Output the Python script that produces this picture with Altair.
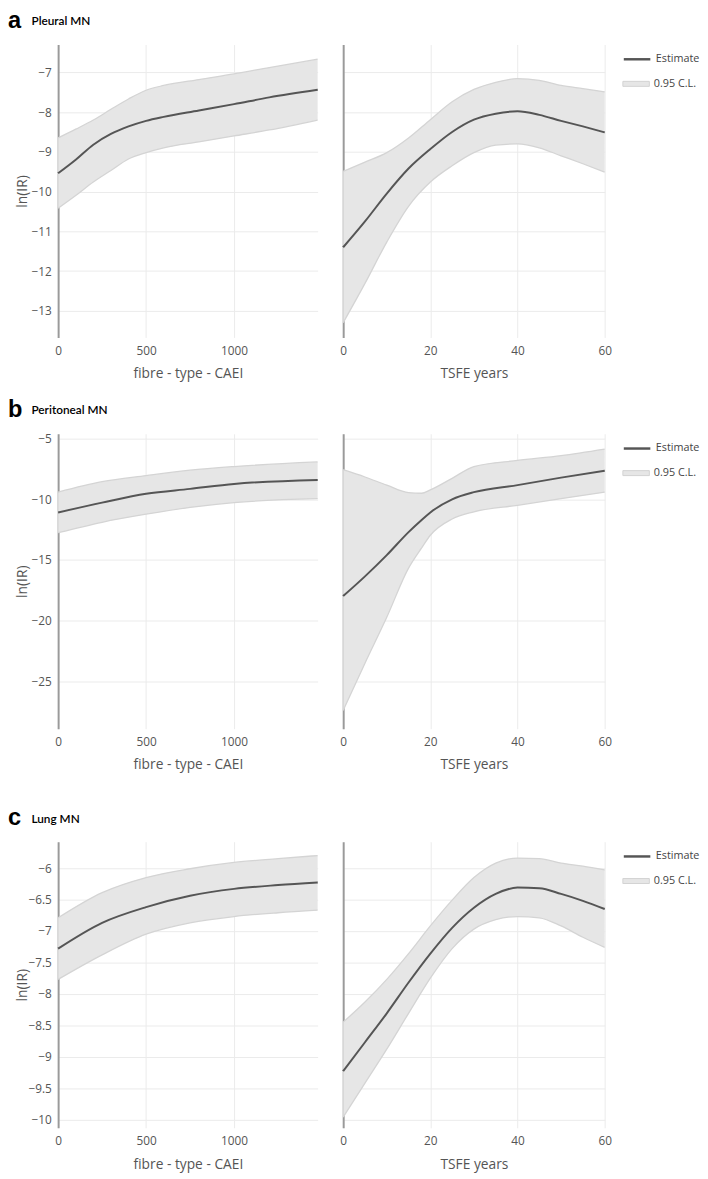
import altair as alt
import pandas as pd

# ---------------- data ----------------
# Row a: Pleural MN
a_caei_x = [0, 100, 200, 300, 400, 500, 600, 800, 1000, 1200, 1475]
a_caei_est = [-9.54, -9.2, -8.82, -8.55, -8.36, -8.22, -8.12, -7.96, -7.8, -7.63, -7.44]
a_caei_up = [-8.65, -8.43, -8.2, -7.93, -7.67, -7.45, -7.33, -7.18, -7.04, -6.88, -6.67]
a_caei_lo = [-10.42, -10.1, -9.76, -9.47, -9.18, -9.02, -8.9, -8.75, -8.6, -8.45, -8.2]

a_tsfe_x = [0, 5, 10, 15, 20, 25, 30, 35, 40, 45, 50, 55, 60]
a_tsfe_est = [-11.4, -10.75, -10.05, -9.42, -8.93, -8.5, -8.19, -8.04, -7.98, -8.07, -8.22, -8.36, -8.51]
a_tsfe_up = [-9.49, -9.26, -9.02, -8.65, -8.19, -7.74, -7.43, -7.25, -7.16, -7.2, -7.33, -7.41, -7.49]
a_tsfe_lo = [-13.3, -12.31, -11.27, -10.37, -9.76, -9.35, -9.02, -8.83, -8.8, -8.9, -9.1, -9.3, -9.51]

# Row b: Peritoneal MN
b_caei_x = [0, 250, 500, 750, 1000, 1475]
b_caei_est = [-11.08, -10.27, -9.54, -9.14, -8.73, -8.4]
b_caei_up = [-9.41, -8.55, -8.05, -7.6, -7.3, -6.92]
b_caei_lo = [-12.75, -11.89, -11.23, -10.67, -10.27, -9.95]

b_tsfe_x = [0, 5, 10, 15, 18, 20, 25, 30, 40, 50, 60]
b_tsfe_est = [-17.97, -16.35, -14.6, -12.7, -11.7, -11.08, -10.0, -9.41, -8.83, -8.21, -7.65]
b_tsfe_up = [-7.56, -8.16, -8.83, -9.45, -9.5, -9.22, -8.27, -7.3, -6.8, -6.4, -5.86]
b_tsfe_lo = [-27.4, -23.5, -19.72, -15.67, -14.0, -12.96, -11.62, -11.03, -10.49, -9.95, -9.41]

# Row c: Lung MN
c_caei_x = [0, 250, 500, 750, 1000, 1250, 1475]
c_caei_est = [-7.28, -6.87, -6.62, -6.44, -6.33, -6.27, -6.23]
c_caei_up = [-6.79, -6.39, -6.15, -6.01, -5.91, -5.85, -5.8]
c_caei_lo = [-7.77, -7.38, -7.05, -6.87, -6.77, -6.71, -6.67]

c_tsfe_x = [0, 5, 10, 15, 20, 25, 30, 35, 40, 45, 50, 55, 60]
c_tsfe_est = [-9.23, -8.77, -8.31, -7.82, -7.36, -6.95, -6.63, -6.41, -6.31, -6.32, -6.41, -6.52, -6.65]
c_tsfe_up = [-8.45, -8.13, -7.77, -7.36, -6.92, -6.51, -6.15, -5.92, -5.84, -5.85, -5.92, -5.97, -6.03]
c_tsfe_lo = [-9.96, -9.42, -8.88, -8.31, -7.75, -7.28, -6.97, -6.82, -6.77, -6.79, -6.92, -7.1, -7.26]

# axes
a_yticks = [-13, -12, -11, -10, -9, -8, -7]
b_yticks = [-25, -20, -15, -10, -5]
c_yticks = [-10, -9.5, -9, -8.5, -8, -7.5, -7, -6.5, -6]
a_ydomain = [-13.67, -6.3]
b_ydomain = [-28.9, -4.6]
c_ydomain = [-10.13, -5.58]
caei_ticks = [0, 500, 1000]
tsfe_ticks = [0, 20, 40, 60]
caei_domain = [0, 1475]
tsfe_domain = [0, 60]

series_names = ["Estimate", "0.95 C.L."]

GRAY = "#555"
FONT = "Open Sans"
GAP = "\u200b" + "\u00a0" * 8


def panel(x, est, lo, up, xdomain, xticks, xtitle, ydomain, yticks, height, left, width,
          letter=None, name=None):
    df = pd.DataFrame({"x": x, "est": est, "lo": lo, "up": up,
                       "es": series_names[0], "ci": series_names[1]})
    base = alt.Chart(df)
    xsc = alt.Scale(domain=xdomain, nice=False, zero=False)
    xaxis = alt.Axis(values=xticks, title=xtitle, format="d", domain=False, ticks=False,
                     grid=True, gridColor="#ebebeb", labelPadding=8, titlePadding=11,
                     labelFlush=False, labelOverlap=False)
    ysc = alt.Scale(domain=ydomain, nice=False, zero=False)
    if left:
        yaxis = alt.Axis(values=yticks, format="~g", domain=True, domainColor="#9a9a9a",
                         domainWidth=2, ticks=False, grid=True, gridColor="#ebebeb",
                         labels=True, labelOverlap=False, title="ln(IR)",
                         labelPadding=7, titlePadding=6, minExtent=23, maxExtent=23)
    else:
        yaxis = alt.Axis(values=yticks, format="~g", domain=True, domainColor="#9a9a9a",
                         domainWidth=2, ticks=False, grid=True, gridColor="#ebebeb",
                         labels=False, title=None, minExtent=0, maxExtent=0)

    def X():
        return alt.X("x:Q", scale=xsc, axis=xaxis)

    def Y(field):
        return alt.Y(field, scale=ysc, axis=yaxis)

    color_enc = alt.Color("es:N",
                          scale=alt.Scale(domain=[series_names[0]], range=["#555555"]),
                          legend=alt.Legend(title=None, symbolType="M-1.15,0H0.85",
                                            symbolSize=729, symbolStrokeWidth=2.5,
                                            labelOffset=2))
    # legend-order helper (drawn first, hidden under the band)
    line_key = base.mark_line(interpolate="monotone", strokeWidth=2).encode(
        x=X(), y=Y("est:Q"), color=color_enc)
    area = base.mark_area(interpolate="monotone").encode(
        x=X(),
        y=Y("lo:Q"),
        y2="up:Q",
        fill=alt.Fill("ci:N",
                      scale=alt.Scale(domain=[series_names[1]], range=["#e6e6e6"]),
                      legend=alt.Legend(title=None,
                                        symbolType="M-1.17,-0.22H1.17V0.22H-1.17Z",
                                        symbolSize=529, symbolStrokeColor="#d2d2d2",
                                        symbolStrokeWidth=1, labelOffset=6)),
    )
    edge_up = base.mark_line(interpolate="monotone", color="#d4d4d4", strokeWidth=1.3).encode(
        x=X(), y=Y("up:Q"))
    edge_lo = base.mark_line(interpolate="monotone", color="#d4d4d4", strokeWidth=1.3).encode(
        x=X(), y=Y("lo:Q"))
    line = base.mark_line(interpolate="monotone", strokeWidth=2).encode(
        x=X(), y=Y("est:Q"), color=color_enc)
    props = dict(width=width, height=height)
    if letter is not None:
        props["title"] = alt.TitleParams(
            text=letter, subtitle=GAP + name, anchor="start", frame="bounds", dx=-8,
            fontSize=24, font="Liberation Sans", fontWeight="bold", color="black",
            subtitleFont="Lato", subtitleFontSize=12, subtitleFontWeight=600,
            subtitleColor="black", subtitlePadding=-17, offset=11.5)
    return alt.layer(line_key, area, edge_up, edge_lo, line).properties(**props)


def row(letter, name, caei, tsfe, ydomain, yticks, height):
    left = panel(*caei, caei_domain, caei_ticks, "fibre - type - CAEI", ydomain, yticks,
                 height, True, 264, letter=letter, name=name)
    right = panel(*tsfe, tsfe_domain, tsfe_ticks, "TSFE years", ydomain, yticks,
                  height, False, 266)
    return alt.hconcat(left, right, spacing=18)


row_a = row("a", "Pleural MN", (a_caei_x, a_caei_est, a_caei_lo, a_caei_up),
            (a_tsfe_x, a_tsfe_est, a_tsfe_lo, a_tsfe_up), a_ydomain, a_yticks, 298)
row_b = row("b", "Peritoneal MN", (b_caei_x, b_caei_est, b_caei_lo, b_caei_up),
            (b_tsfe_x, b_tsfe_est, b_tsfe_lo, b_tsfe_up), b_ydomain, b_yticks, 300)
row_c = row("c", "Lung MN", (c_caei_x, c_caei_est, c_caei_lo, c_caei_up),
            (c_tsfe_x, c_tsfe_est, c_tsfe_lo, c_tsfe_up), c_ydomain, c_yticks, 291)

top = alt.vconcat(row_a, row_b, spacing=17).resolve_scale(color="independent", fill="independent")

chart = alt.vconcat(top, row_c, spacing=35).resolve_scale(
    color="independent", fill="independent"
).properties(padding={"left": 0, "top": -9, "right": 0, "bottom": 0}).configure_view(
    stroke=None
).configure_axis(
    labelFont=FONT, labelFontSize=12, labelColor=GRAY, titleFont=FONT, titleFontSize=14,
    titleColor=GRAY, titleFontWeight="normal"
).configure_legend(offset=13, rowPadding=0, padding=0,
                   labelFont=FONT, labelFontSize=11, labelColor="#444")

chart.save("out.html", embed_options={"renderer": "svg", "actions": False})
